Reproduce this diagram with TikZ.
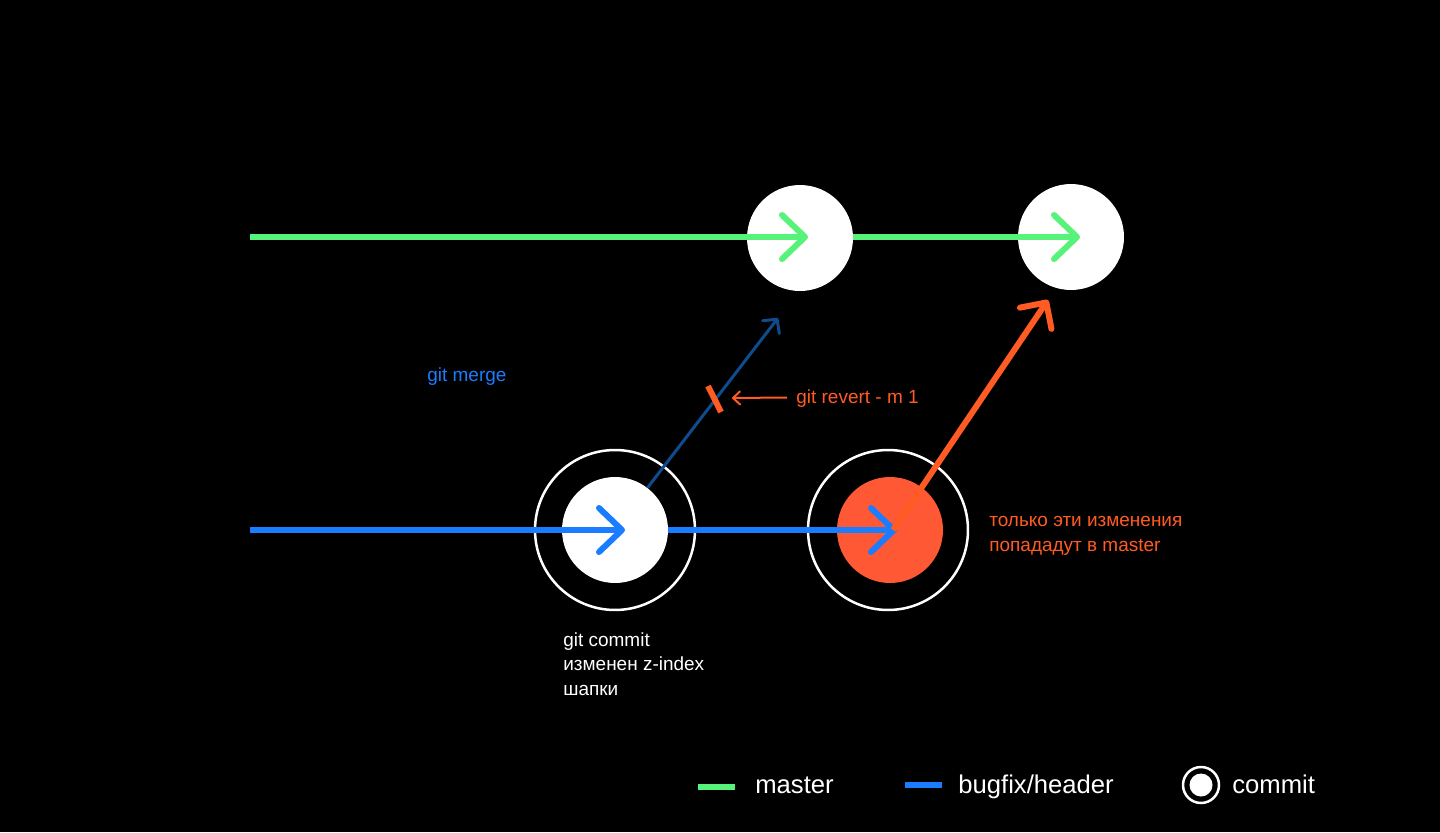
\documentclass[tikz,border=0pt]{standalone}
\usepackage{fontspec}
\setmainfont{Liberation Sans}
\usetikzlibrary{arrows.meta}
\definecolor{mastergreen}{HTML}{57F27A}
\definecolor{fixblue}{HTML}{1A7CFF}
\definecolor{mergeblue}{HTML}{0E4C8E}
\definecolor{revorange}{HTML}{FF5B22}
\definecolor{dotorange}{HTML}{FF5834}
\begin{document}
\begin{tikzpicture}[x=0.02cm,y=-0.02cm,
	commit node/.style={circle,fill=white,minimum size=2.12cm,inner sep=0pt},
	ring node/.style={circle,draw=white,line width=0.05cm,minimum size=3.2cm,inner sep=0pt},
	branch/.style={line width=0.12cm,-{Straight Barb[length=0.46cm,width=0.88cm,round]}},
	note/.style={font=\fontsize{10.8}{14}\selectfont,align=left,anchor=west,inner sep=0pt},
	legend/.style={font=\fontsize{14.6}{17}\selectfont,text=white,anchor=base west,inner sep=0pt}]
			\fill[black] (0,0) rectangle (1440,832);

			% commits
			\node[commit node] at (800, 238) (m1) {};
			\node[commit node] at (1071, 237) (m2) {};
			\node[ring node] at (615, 530) (r1) {};
			\node[ring node] at (888, 530) (r2) {};
			\node[commit node] at (615, 530) (b1) {};
			\node[commit node,fill=dotorange] at (890, 530) (b2) {};

			\coordinate (mstart) at (250, 237);
			\coordinate (bstart) at (250, 530);
			\coordinate (mergeend) at (778, 318);
			\coordinate (revend) at (1048, 300);
			\coordinate (revtip) at (732, 398);

			% branches
			\draw[branch,mastergreen] (mstart) -- ([xshift=0.16cm,yshift=0.02cm]m1.center);
			\draw[branch,mastergreen] ([yshift=0.02cm]m1.east) -- ([xshift=0.18cm]m2.center);
			\draw[branch,fixblue] (bstart) -- ([xshift=0.2cm]b1.center);
			\draw[branch,fixblue] (b1.east) -- ([xshift=0.14cm]b2.center);

			% merge and revert
			\draw[mergeblue,line width=0.06cm,-{Straight Barb[length=0.2cm,width=0.42cm,round]}] (b1) -- (mergeend);
			\draw[revorange,line width=0.12cm] (708, 386) -- (721, 412);
			\draw[revorange,line width=0.12cm,-{Straight Barb[length=0.38cm,width=0.76cm,round]}] ([xshift=0.06cm]b2.center) -- (revend);

			\node[note,text=fixblue] at (427, 377) (mergenote) {git merge};
			\node[note,text=revorange,inner xsep=0.18cm] at (787, 399) (revnote) {git revert - m 1};
			\draw[revorange,line width=0.04cm,-{Straight Barb[length=0.14cm,width=0.26cm,round]}] ([yshift=0.03cm]revnote.west) -- (revtip);
			\node[note,text=revorange] at (989, 536) (onlynote) {только эти изменения\\попададут в master};
			\node[note,text=white] at (563, 664) (commitnote) {git commit\\изменен z-index\\шапки};

			% legend
			\node[fill=mastergreen,minimum width=0.74cm,minimum height=0.12cm,inner sep=0pt] at (716, 787) (keymaster) {};
			\node[legend] at (755, 793) {master};
			\node[fill=fixblue,minimum width=0.74cm,minimum height=0.12cm,inner sep=0pt] at (923, 785) (keyfix) {};
			\node[legend] at (958, 793) {bugfix/header};
			\node[circle,draw=white,line width=0.05cm,minimum size=0.72cm,inner sep=0pt] at (1201, 785) (keyring) {};
			\node[circle,fill=white,minimum size=0.46cm,inner sep=0pt] at (1201, 785) (keydot) {};
			\node[legend] at (1232, 793) {commit};
		\end{tikzpicture}
\end{document}
